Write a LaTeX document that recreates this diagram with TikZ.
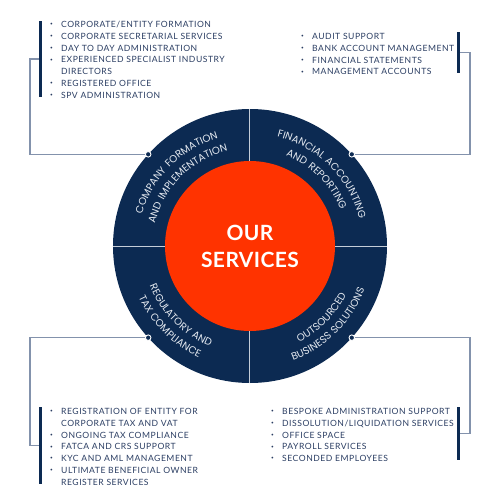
\documentclass[tikz,border=0pt]{standalone}
\usepackage{fontspec}
\setmainfont{Lato}
\newfontfamily\listfont{Lato}[LetterSpace=6]
\newfontfamily\arcfont{Poppins}[LetterSpace=9]
\newfontfamily\hubfont{Lato}[LetterSpace=2]
\usetikzlibrary{decorations.text}
\definecolor{navy}{HTML}{0C2A52}
\definecolor{hubred}{HTML}{FF3300}
\definecolor{connc}{HTML}{8392AC}
\definecolor{listc}{HTML}{2B3E63}
\definecolor{arcc}{HTML}{E4E9F0}
\definecolor{divc}{HTML}{C5CDD8}
\newcommand{\bul}{\raisebox{1.6pt}{\scalebox{0.55}{\textbullet}}}
\newcommand{\arcstyle}{\arcfont\fontsize{10.2}{12}\selectfont}
\tikzset{
  conn/.style={draw=connc, line width=1.2pt},
  bar/.style={fill=navy, inner sep=0, minimum width=3pt},
  dotmark/.style={circle, fill=navy, draw=white, line width=0.9pt, minimum size=5.5pt, inner sep=0},
  listnode/.style={anchor=base west, inner sep=0, text=listc, font=\listfont\fontsize{8.6}{11.75}\selectfont},
  arctext/.style={decorate, decoration={text along path, text align=center, text color=arcc, text={|\arcstyle|#1}}},
  hubtext/.style={anchor=base, inner sep=0, text=white, font=\hubfont\bfseries\fontsize{21}{24}\selectfont},
}
\begin{document}
\begin{tikzpicture}[x=1pt,y=1pt]
\useasboundingbox (-250,-253) rectangle (247,246);
\fill[white] (-250,-253) rectangle (247,246);
% ring
\node[circle, fill=navy, minimum size=274pt, inner sep=0] (ring) at (0,0) {};
\draw[divc, line width=1pt] (ring.north) -- (ring.south);
\draw[divc, line width=1pt] (ring.west) -- (ring.east);
\node[circle, fill=hubred, minimum size=170pt, inner sep=0] (hub) at (0,0) {};
\node[hubtext] (hubA) at (0,5.5) {OUR};
\node[hubtext] (hubB) at (0,-21) {SERVICES};
% arc texts
\path[arctext={COMPANY FORMATION}] (185:112.5) arc[start angle=185, end angle=85, radius=112.5];
\path[arctext={AND IMPLEMENTATION}] (185:97.5) arc[start angle=185, end angle=85, radius=97.5];
\path[arctext={FINANCIAL ACCOUNTING}] (95:112.5) arc[start angle=95, end angle=-5, radius=112.5];
\path[arctext={AND REPORTING}] (95:97.5) arc[start angle=95, end angle=-5, radius=97.5];
\path[arctext={REGULATORY AND}] (175:108) arc[start angle=175, end angle=275, radius=108];
\path[arctext={TAX COMPLIANCE}] (175:122.5) arc[start angle=175, end angle=275, radius=122.5];
\path[arctext={OUTSOURCED}] (265:108) arc[start angle=265, end angle=365, radius=108];
\path[arctext={BUSINESS SOLUTIONS}] (265:122.5) arc[start angle=265, end angle=365, radius=122.5];
% connector points
\coordinate (pTL) at (138:137);
\coordinate (pTR) at (42:137);
\coordinate (pBL) at (222:137);
\coordinate (pBR) at (318:137);
\coordinate (cTL) at (-220,187);
\coordinate (cTR) at (220,193.5);
\coordinate (cBL) at (-220,-199.5);
\coordinate (cBR) at (220,-187.5);
\coordinate (bTL) at (-209,187);
\coordinate (bTR) at (209,193.5);
\coordinate (bBL) at (-209,-199.5);
\coordinate (bBR) at (209,-187.5);
\draw[conn] (pTL) -| (cTL) -- (bTL);
\draw[conn] (pTR) -| (cTR) -- (bTR);
\draw[conn] (pBL) -| (cBL) -- (bBL);
\draw[conn] (pBR) -| (cBR) -- (bBR);
% bars
\node[bar, minimum height=76pt] (barTL) at (bTL) {};
\node[bar, minimum height=41pt] (barTR) at (bTR) {};
\node[bar, minimum height=77pt] (barBL) at (bBL) {};
\node[bar, minimum height=53pt] (barBR) at (bBR) {};
\node[dotmark] (dTL) at (pTL) {};
\node[dotmark] (dTR) at (pTR) {};
\node[dotmark] (dBL) at (pBL) {};
\node[dotmark] (dBR) at (pBR) {};
% lists
\node[listnode] (listTL) at (-200,218.5) {\begin{tabular}[t]{@{}p{11pt}@{}l@{}}
\bul & CORPORATE/ENTITY FORMATION\\
\bul & CORPORATE SECRETARIAL SERVICES\\
\bul & DAY TO DAY ADMINISTRATION\\
\bul & EXPERIENCED SPECIALIST INDUSTRY\\
 & DIRECTORS\\
\bul & REGISTERED OFFICE\\
\bul & SPV ADMINISTRATION
\end{tabular}};
\node[listnode] (listTR) at (51,206.5) {\begin{tabular}[t]{@{}p{11pt}@{}l@{}}
\bul & AUDIT SUPPORT\\
\bul & BANK ACCOUNT MANAGEMENT\\
\bul & FINANCIAL STATEMENTS\\
\bul & MANAGEMENT ACCOUNTS
\end{tabular}};
\node[listnode] (listBL) at (-200,-168.5) {\begin{tabular}[t]{@{}p{11pt}@{}l@{}}
\bul & REGISTRATION OF ENTITY FOR\\
 & CORPORATE TAX AND VAT\\
\bul & ONGOING TAX COMPLIANCE\\
\bul & FATCA AND CRS SUPPORT\\
\bul & KYC AND AML MANAGEMENT\\
\bul & ULTIMATE BENEFICIAL OWNER\\
 & REGISTER SERVICES
\end{tabular}};
\node[listnode] (listBR) at (21,-168.5) {\begin{tabular}[t]{@{}p{11pt}@{}l@{}}
\bul & BESPOKE ADMINISTRATION SUPPORT\\
\bul & DISSOLUTION/LIQUIDATION SERVICES\\
\bul & OFFICE SPACE\\
\bul & PAYROLL SERVICES\\
\bul & SECONDED EMPLOYEES
\end{tabular}};
\end{tikzpicture}
\end{document}
